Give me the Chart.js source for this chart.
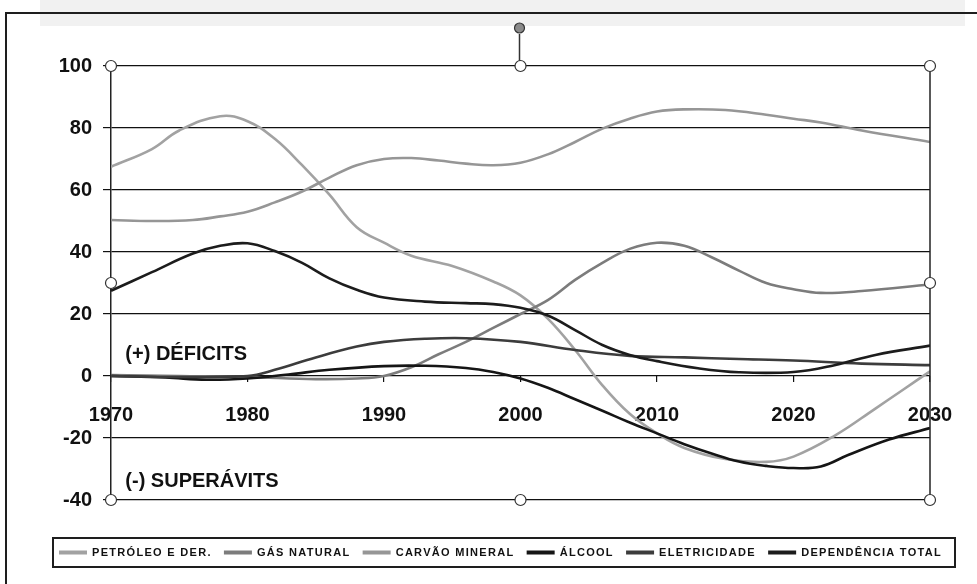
<!DOCTYPE html>
<html>
<head>
<meta charset="utf-8">
<script src="https://cdn.jsdelivr.net/npm/chart.js@4"></script>
<style>
  html, body { margin: 0; padding: 0; background: #ffffff; }
  #wrap { width: 977px; height: 584px; position: relative; }
</style>
</head>
<body>
<div id="wrap"><canvas id="chart" width="977" height="584"></canvas></div>
<script>
// Dependência externa por fonte (%), 1970-2030
const seriesLabels = ['PETRÓLEO E DER.', 'GÁS NATURAL', 'CARVÃO MINERAL', 'ÁLCOOL', 'ELETRICIDADE', 'DEPENDÊNCIA TOTAL'];
const seriesColors = ['#a2a2a2', '#7c7c7c', '#969696', '#151515', '#3c3c3c', '#1c1c1c'];

const petroleoYears  = [1970, 1973, 1975, 1978, 1980, 1982, 1984, 1986, 1988, 1990, 1992, 1995, 1998, 2000, 2002, 2004, 2006, 2008, 2010, 2012, 2015, 2018, 2020, 2023, 2026, 2028, 2030];
const petroleoValues = [67.5, 73.2, 79.2, 83.8, 82.2, 76.5, 68, 58.5, 48, 43, 38.8, 35.5, 30.5, 26, 18.5, 8.4, -3, -12.2, -18.5, -23.2, -26.8, -27.7, -26, -19.3, -10.5, -4.5, 1.5];

const gasYears  = [1970, 1975, 1980, 1985, 1988, 1990, 1992, 1994, 1996, 1998, 2000, 2002, 2004, 2006, 2008, 2010, 2012, 2014, 2016, 2018, 2020, 2022, 2025, 2030];
const gasValues = [0.3, 0, -0.3, -1, -0.8, 0, 2.8, 7, 11, 15.5, 20, 24.5, 31, 36.5, 41, 43, 42, 38.3, 34, 30, 28, 26.8, 27.4, 29.5];

const carvaoYears  = [1970, 1973, 1976, 1978, 1980, 1982, 1984, 1986, 1988, 1990, 1992, 1994, 1996, 1998, 2000, 2002, 2004, 2006, 2008, 2010, 2012, 2015, 2018, 2020, 2022, 2025, 2030];
const carvaoValues = [50.3, 50, 50.3, 51.5, 53, 56, 59.5, 64, 68, 70, 70.3, 69.5, 68.5, 68, 68.8, 71.5, 75.5, 79.8, 83, 85.3, 86, 85.8, 84.3, 83, 81.8, 79.2, 75.5];

const alcoolYears  = [1970, 1974, 1977, 1980, 1983, 1986, 1990, 1993, 1996, 1998, 2000, 2002, 2004, 2006, 2008, 2010, 2012, 2014, 2016, 2018, 2020, 2022, 2024, 2027, 2030];
const alcoolValues = [0, -0.5, -1.2, -0.8, 0.5, 2, 3.2, 3.3, 2.6, 1.3, -0.8, -3.8, -7.5, -11.2, -15, -18.5, -22, -25, -27.6, -29, -29.7, -29.2, -25.5, -20.5, -16.8];

const eletricidadeYears  = [1970, 1975, 1980, 1982, 1985, 1988, 1990, 1993, 1996, 2000, 2004, 2008, 2012, 2016, 2020, 2025, 2030];
const eletricidadeValues = [0, -0.3, 0, 2, 6, 9.5, 11, 12, 12.2, 11, 8.4, 6.5, 6, 5.5, 5, 4, 3.5];

const dependenciaYears  = [1970, 1973, 1976, 1978, 1980, 1982, 1984, 1986, 1988, 1990, 1993, 1996, 1998, 2000, 2002, 2004, 2006, 2008, 2010, 2013, 2016, 2020, 2023, 2026, 2030];
const dependenciaValues = [27.5, 33.5, 39.5, 42, 42.8, 40.3, 36.5, 31.5, 27.8, 25.3, 24, 23.5, 23.2, 22, 19.5, 14.8, 10, 6.8, 4.8, 2.5, 1.2, 1.3, 3.5, 6.8, 9.8];

const xTickValues = [1970, 1980, 1990, 2000, 2010, 2020, 2030];
const xTickLabels = ['1970', '1980', '1990', '2000', '2010', '2020', '2030'];
const yTickValues = [-40, -20, 0, 20, 40, 60, 80, 100];

const regionLabels = ['(+) DÉFICITS', '(-) SUPERÁVITS'];

const seriesYears  = [petroleoYears, gasYears, carvaoYears, alcoolYears, eletricidadeYears, dependenciaYears];
const seriesValues = [petroleoValues, gasValues, carvaoValues, alcoolValues, eletricidadeValues, dependenciaValues];

const datasets = seriesLabels.map((label, i) => ({
  label,
  data: seriesYears[i].map((yr, k) => ({ x: yr, y: seriesValues[i][k] })),
  borderColor: seriesColors[i],
  backgroundColor: seriesColors[i],
  borderWidth: 2.6,
  pointRadius: 0,
  tension: 0.4,
  fill: false,
  order: -i
}));

// frame, light band at the top edge and the right border of the plot
const framePlugin = {
  id: 'frame',
  beforeDraw(chart) {
    const ctx = chart.ctx;
    ctx.save();
    ctx.fillStyle = '#ffffff';
    ctx.fillRect(0, 0, chart.width, chart.height);
    ctx.fillStyle = '#f1f1f1';
    ctx.fillRect(40, 0, 925, 26);
    ctx.strokeStyle = '#1e1e1e';
    ctx.lineWidth = 2;
    ctx.beginPath();
    ctx.moveTo(6, chart.height);
    ctx.lineTo(6, 13);
    ctx.lineTo(chart.width, 13);
    ctx.stroke();
    ctx.restore();
  },
  afterDatasetsDraw(chart) {
    const { ctx, chartArea: a } = chart;
    ctx.save();
    ctx.strokeStyle = '#222';
    ctx.lineWidth = 1.5;
    ctx.beginPath();
    ctx.moveTo(a.right, a.top);
    ctx.lineTo(a.right, a.bottom);
    ctx.stroke();
    ctx.restore();
  }
};

// "(+) DÉFICITS" / "(-) SUPERÁVITS" labels inside the plot
const regionPlugin = {
  id: 'regions',
  afterDatasetsDraw(chart) {
    const { ctx, scales } = chart;
    ctx.save();
    ctx.font = 'bold 20px "Liberation Sans", Arial, sans-serif';
    ctx.fillStyle = '#111';
    ctx.textAlign = 'left';
    ctx.textBaseline = 'middle';
    const x = scales.x.getPixelForValue(1971.05);
    ctx.fillText(regionLabels[0], x, scales.y.getPixelForValue(6.9));
    ctx.fillText(regionLabels[1], x, scales.y.getPixelForValue(-34));
    ctx.restore();
  }
};

// selection handles around the plot area
const handlesPlugin = {
  id: 'handles',
  afterDraw(chart) {
    const { ctx, chartArea: a } = chart;
    const cx = (a.left + a.right) / 2;
    const cy = (a.top + a.bottom) / 2;
    ctx.save();
    ctx.strokeStyle = '#333';
    ctx.lineWidth = 1.5;
    ctx.beginPath();
    ctx.moveTo(cx - 1, a.top);
    ctx.lineTo(cx - 1, a.top - 32);
    ctx.stroke();
    ctx.fillStyle = '#8a8a8a';
    ctx.lineWidth = 1.2;
    ctx.beginPath();
    ctx.arc(cx - 1, a.top - 38, 5, 0, Math.PI * 2);
    ctx.fill();
    ctx.stroke();
    const pts = [[a.left, a.top], [cx, a.top], [a.right, a.top], [a.left, cy], [a.right, cy],
                 [a.left, a.bottom], [cx, a.bottom], [a.right, a.bottom]];
    ctx.fillStyle = '#ffffff';
    for (const [px, py] of pts) {
      ctx.beginPath();
      ctx.arc(px, py, 5.5, 0, Math.PI * 2);
      ctx.fill();
      ctx.stroke();
    }
    ctx.restore();
  }
};

// boxed legend below the plot
const legendBoxPlugin = {
  id: 'legendBox',
  afterDraw(chart) {
    const ctx = chart.ctx;
    const box = { left: 53, top: 538, right: 955, bottom: 567 };
    ctx.save();
    ctx.strokeStyle = '#1e1e1e';
    ctx.lineWidth = 2;
    ctx.strokeRect(box.left, box.top, box.right - box.left, box.bottom - box.top);
    ctx.font = 'bold 11px "Liberation Sans", Arial, sans-serif';
    ctx.letterSpacing = '1.3px';
    ctx.textBaseline = 'middle';
    ctx.textAlign = 'left';
    const sample = 28, gapIn = 5;
    const items = chart.data.datasets.map(d => ({ label: d.label, color: d.borderColor, w: ctx.measureText(d.label).width }));
    const start = 59, end = 942;
    const total = items.reduce((s, it) => s + sample + gapIn + it.w, 0);
    const gap = (end - start - total) / (items.length - 1);
    const cy = (box.top + box.bottom) / 2;
    let x = start;
    for (const it of items) {
      ctx.fillStyle = it.color;
      ctx.fillRect(x, cy - 2, sample, 4);
      ctx.fillStyle = '#111';
      ctx.fillText(it.label, x + sample + gapIn, cy + 0.5);
      x += sample + gapIn + it.w + gap;
    }
    ctx.restore();
  }
};

new Chart(document.getElementById('chart'), {
  type: 'line',
  data: { datasets },
  options: {
    responsive: false,
    animation: false,
    devicePixelRatio: 1,
    layout: { padding: { left: 0, right: 47, top: 66, bottom: 84 } },
    plugins: { legend: { display: false }, tooltip: { enabled: false }, title: { display: false } },
    scales: {
      x: {
        type: 'linear',
        position: { y: 0 },
        min: 1970,
        max: 2030,
        afterBuildTicks(scale) { scale.ticks = xTickValues.map(v => ({ value: v })); },
        ticks: {
          autoSkip: false,
          maxRotation: 0,
          padding: 21,
          color: '#111',
          font: { family: '"Liberation Sans", Arial, sans-serif', size: 20, weight: 'bold' },
          callback: (v) => xTickLabels[xTickValues.indexOf(v)]
        },
        grid: { drawOnChartArea: false, drawTicks: true, tickLength: 6, color: '#111', lineWidth: 1.2 },
        border: { display: false }
      },
      y: {
        type: 'linear',
        position: 'left',
        min: -40,
        max: 100,
        afterBuildTicks(scale) { scale.ticks = yTickValues.map(v => ({ value: v })); },
        afterFit(scale) { scale.width = 111; },
        ticks: {
          padding: 11,
          color: '#111',
          font: { family: '"Liberation Sans", Arial, sans-serif', size: 20, weight: 'bold' }
        },
        grid: { color: '#111', lineWidth: 1.2, tickLength: 8 },
        border: { display: true, color: '#222', width: 1.5 }
      }
    }
  },
  plugins: [framePlugin, regionPlugin, handlesPlugin, legendBoxPlugin]
});
</script>
</body>
</html>
